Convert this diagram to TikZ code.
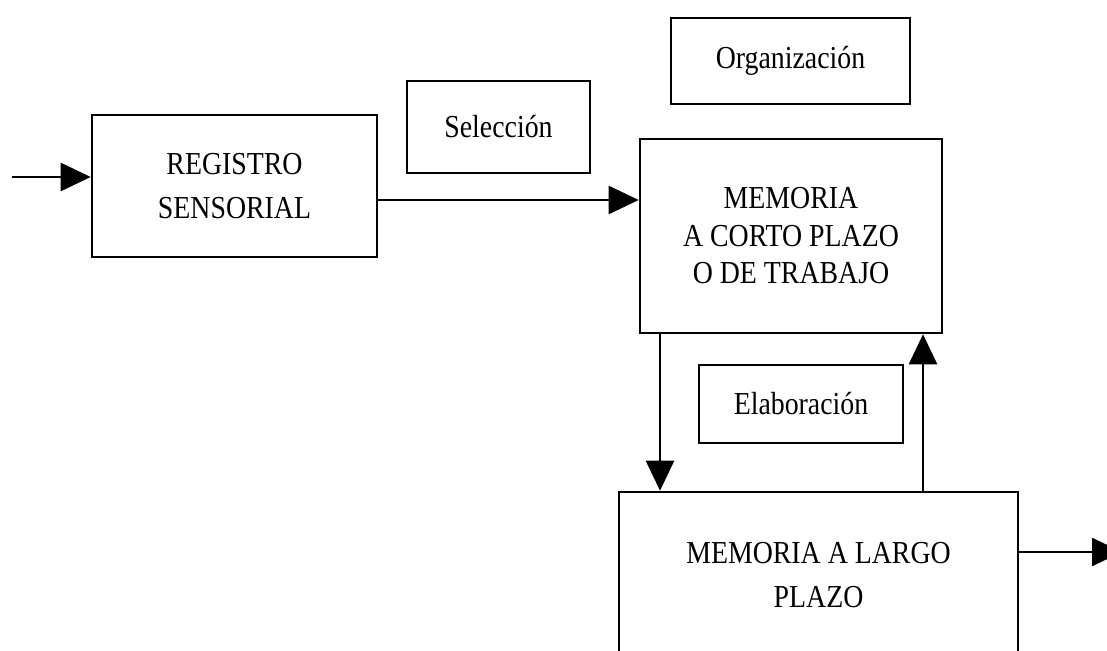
\documentclass[tikz,border=0pt]{standalone}
\usepackage{fontspec}
\setmainfont{Liberation Serif}[FakeStretch=0.87]
\usetikzlibrary{arrows.meta}
\begin{document}
\begin{tikzpicture}[x=1pt,y=-1pt,
  box/.style={draw,line width=2.6pt,rectangle,inner sep=0pt,align=center,
    font=\fontsize{32}{37.5}\selectfont},
  conn/.style={line width=2.6pt,-{Triangle[length=30pt,width=28pt]}}]
\useasboundingbox (0,0) rectangle (1107,650);
\clip (0,0) rectangle (1107,650);
\fill[white] (0,0) rectangle (1107,650);
\node[box,minimum width=285pt,minimum height=142pt,
  font=\fontsize{32}{44}\selectfont] (rs) at (234.5,186) {REGISTRO\\SENSORIAL};
\node[box,minimum width=183pt,minimum height=92pt] (sel) at (498.5,127) {Selección};
\node[box,minimum width=239pt,minimum height=86pt] (org) at (790.5,61) {Organización};
\node[box,minimum width=302pt,minimum height=194pt] (mcp) at (791,236)
  {MEMORIA\\A CORTO PLAZO\\O DE TRABAJO};
\node[box,minimum width=204pt,minimum height=78pt] (ela) at (801,404) {Elaboración};
\node[box,minimum width=399pt,minimum height=166pt,
  font=\fontsize{32}{44}\selectfont] (mlp) at (818.5,575) {MEMORIA A LARGO\\PLAZO};
\coordinate (in) at (12,177);
\coordinate (h1) at (0,200);
\coordinate (d1) at (660,0);
\coordinate (u1) at (923,0);
\coordinate (out) at (1122,552);
\draw[conn] (in) -- (in -| rs.west);
\draw[conn] (h1 -| rs.east) -- (h1 -| mcp.west);
\draw[conn] (mcp.south -| d1) -- (mlp.north -| d1);
\draw[conn] (mlp.north -| u1) -- (mcp.south -| u1);
\draw[conn] (out -| mlp.east) -- (out);
\end{tikzpicture}
\end{document}
